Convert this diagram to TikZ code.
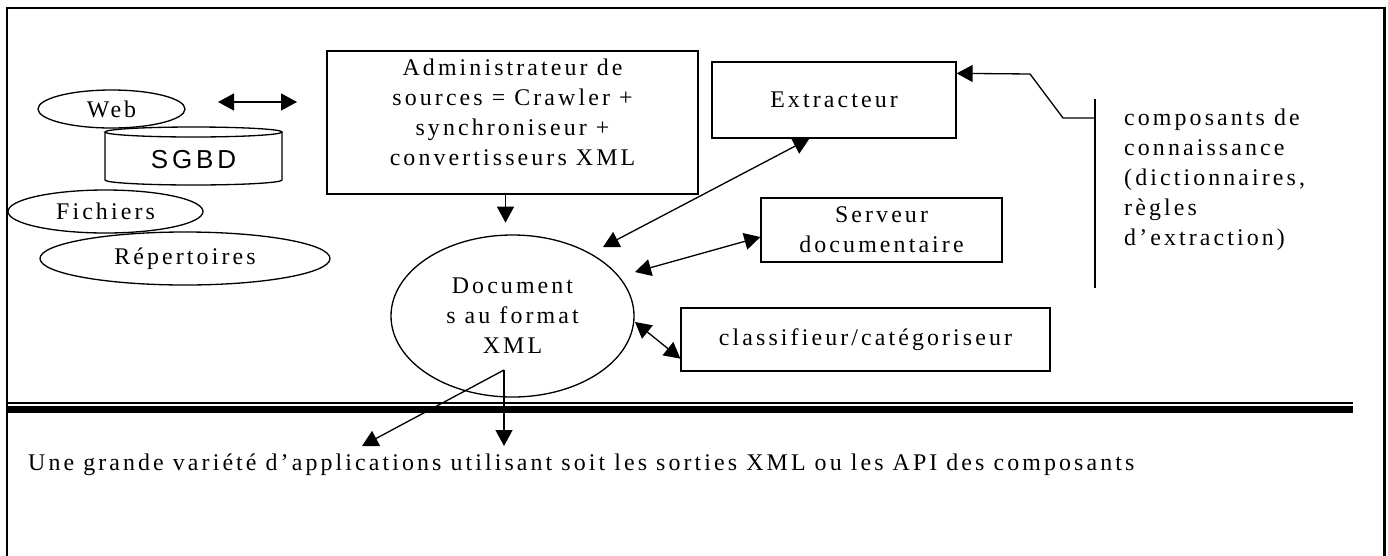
\documentclass[tikz,border=0pt]{standalone}
\usepackage{fontspec}
\setmainfont{Liberation Serif}[LetterSpace=13,Ligatures=NoCommon]
\newfontfamily\sgbdfont{Liberation Sans}[LetterSpace=15]
\usepackage{tikz}
\usetikzlibrary{shapes.geometric}
\usetikzlibrary{arrows.meta}
\usetikzlibrary{calc}
\def\thickness{0.75pt}
\def\px{0.02cm}
\tikzstyle{fine}=[line width=\thickness]
\tikzset{box/.style={draw, fine, rectangle, inner sep=0pt, align=center}}
\tikzset{oval/.style={draw, fine, ellipse, inner sep=0pt, align=center, fill=white}}
\tikzset{arrowed/.style={fine, -{Triangle[length=0.32cm,width=0.34cm]}}}
\tikzset{twoway/.style={fine, {Triangle[length=0.32cm,width=0.34cm]}-{Triangle[length=0.32cm,width=0.34cm]}}}

\begin{document}
\begin{tikzpicture}[x=\px, y=-\px, font=\fontsize{13.6}{17.07}\selectfont] %% one unit = one pixel

\path[use as bounding box] (0,0) rectangle (1388,555);

%% frame
\draw[line width=1.7pt] (7,560) -- (7,8) -- (1384,8) -- (1384,560);

%% sources
\node [oval, minimum width=147*\px, minimum height=38*\px] (web) at (111.5,109) {Web};
\draw[fine, fill=white] (105,132) -- (105,180) arc[start angle=180, end angle=360, x radius=88.5*\px, y radius=5*\px] -- (282,132);
\draw[fine, fill=white] (193.5,132) ellipse [x radius=88.5*\px, y radius=5*\px];
\node [font=\sgbdfont\fontsize{14.8}{17}\selectfont] (sgbd) at (193.5,160) {SGBD};
\node [oval, minimum width=195*\px, minimum height=43*\px] (fichiers) at (105.5,211.5) {Fichiers};
\node [oval, minimum width=290*\px, minimum height=53*\px] (repertoires) at (185,258.5) {Répertoires};

\node [box, minimum width=371*\px, minimum height=143*\px] (admin) at (512.5,122.5) {};
\node [align=center] (admintext) at (512.5,112) {Administrateur de\\sources = Crawler +\\synchroniseur +\\convertisseurs XML};

\coordinate (webr) at (218,102);
\coordinate (adminl) at (297,102);
\draw[twoway] (webr) to (adminl);

%% document and components
\node [oval, fill=none, minimum width=243*\px, minimum height=162*\px] (doc) at (512.5,316) {Document\\s au format\\XML};
\draw[arrowed] ([xshift=-7*\px]admin.south) to ++(0,28);

\node [box, minimum width=244*\px, minimum height=76*\px] (extr) at (834,100) {Extracteur};
\node [box, minimum width=241*\px, minimum height=64*\px] (serv) at (881.5,230) {Serveur\\documentaire};
\node [box, minimum width=369*\px, minimum height=63*\px] (classif) at (865.5,339.5) {classifieur/catégoriseur};

\coordinate (docne) at (603,247);
\coordinate (doce) at (635,272);
\coordinate (docse) at (635,322);
\draw[twoway] (docne) to ([xshift=98*\px]extr.south west);
\draw[twoway] (doce) to ([yshift=-7*\px]serv.west);
\draw[twoway] (docse) to ([yshift=13*\px]classif.south west);

%% knowledge
\coordinate (ktop) at (1095,99);
\coordinate (kbot) at (1095,288);
\coordinate (kjoin) at (1095,118);
\draw[fine] (ktop) to (kbot);
\draw[arrowed] (kjoin) -- ++(-32,0) -- ++(-33,-44) -- ([yshift=-12*\px]extr.north east);
\node [anchor=west, align=left] (know) at (1118,180) {composants de\\connaissance\\(dictionnaires,\\règles\\d’extraction)};

%% applications
\draw[line width=0.8pt] (8,403) -- (1353,403);
\draw[line width=4pt] (8,409.5) -- (1353,409.5);

\coordinate (out) at (504,370);
\coordinate (app1) at (362,446);
\coordinate (app2) at (504,446);
\draw[arrowed] (out) to (app1);
\draw[arrowed] (out) to (app2);
\node [anchor=west] (apps) at (22,465) {Une grande variété d’applications utilisant soit les sorties XML ou les API des composants};

\end{tikzpicture}
\end{document}
